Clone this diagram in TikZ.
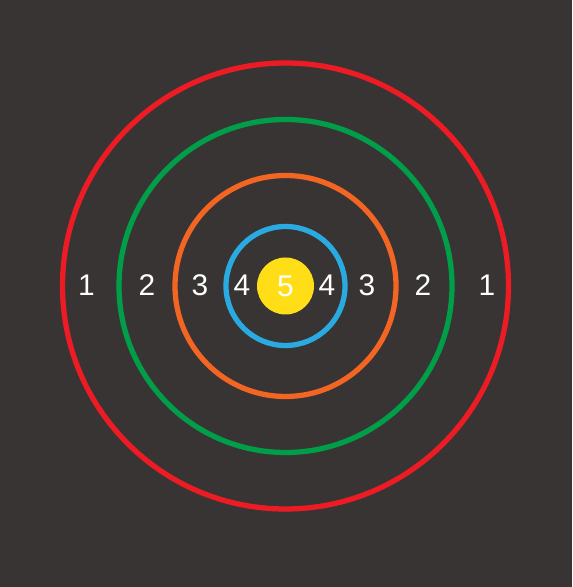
\documentclass[tikz,border=0pt]{standalone}
\usepackage{fontspec}
\setmainfont{Liberation Sans}
\usepackage{xcolor}
\usepackage{tikz}
\usetikzlibrary{positioning}

\definecolor{board}{RGB}{56,52,51}
\definecolor{ringred}{RGB}{237,28,36}
\definecolor{ringgreen}{RGB}{0,158,73}
\definecolor{ringorange}{RGB}{242,101,34}
\definecolor{ringblue}{RGB}{41,171,226}
\definecolor{bull}{RGB}{255,222,23}

\tikzset{
  ring/.style={line width=3pt},
  score/.style={text=white,font=\fontsize{17}{20}\selectfont,inner sep=0pt}
}

\begin{document}
\begin{tikzpicture}[x=0.02cm,y=0.02cm]
 	\fill[board] (0,0) rectangle (572,587);
 	\useasboundingbox (0,0) rectangle (572,587);
 	\coordinate (centre) at (285.5,301);
 	\draw[ring,ringred] (centre) circle (223);
 	\draw[ring,ringgreen] (centre) circle (166.5);
 	\draw[ring,ringorange] (centre) circle (110.5);
 	\draw[ring,ringblue] (centre) circle (59.5);
 	\fill[bull] (centre) circle (28.5);
 	\node[score] (s5) at (centre) {5};
 	\node[score] (l4) at (242,301.5) {4};
 	\node[score] (r4) at (327,301.5) {4};
 	\node[score] (l3) at (200,301.5) {3};
 	\node[score] (r3) at (367,301.5) {3};
 	\node[score] (l2) at (147,301.5) {2};
 	\node[score] (r2) at (423,301.5) {2};
 	\node[score] (l1) at (86.5,301.5) {1};
 	\node[score] (r1) at (487,301.5) {1};
\end{tikzpicture}
\end{document}
